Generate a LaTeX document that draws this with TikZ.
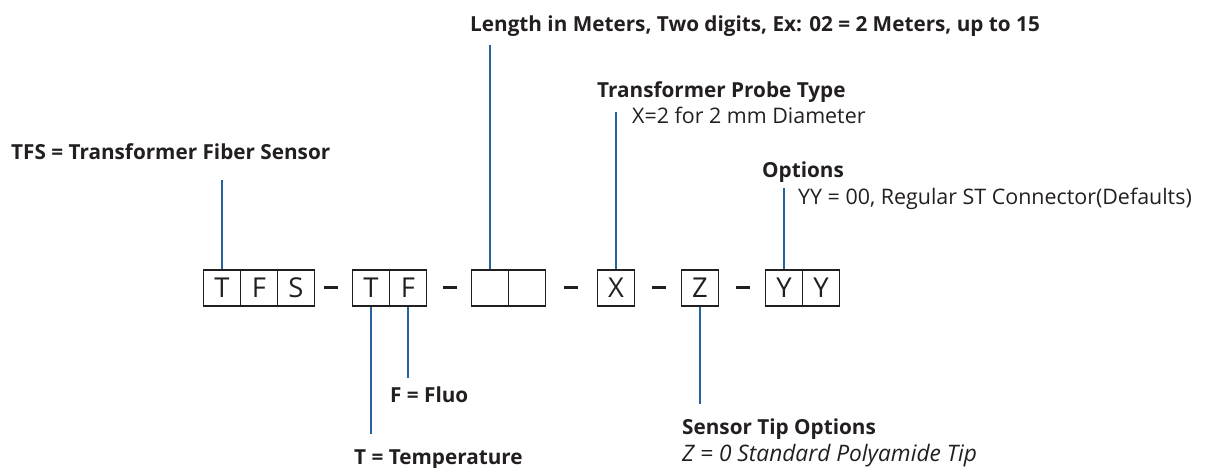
\documentclass[tikz,border=0pt]{standalone}
\usepackage{fontspec}
\setmainfont{Open Sans}
\usepackage{tikz}
\usetikzlibrary{positioning}

\definecolor{leadblue}{RGB}{38,98,158}
\definecolor{ink}{RGB}{35,31,32}

\tikzset{
	cell/.style={shape=rectangle,draw=ink,line width=1.5bp,minimum width=37bp,minimum height=36bp,inner sep=0pt,font=\fontsize{27.5}{28}\selectfont,text=ink},
	bar/.style={shape=rectangle,fill=ink,minimum width=14bp,minimum height=3bp,inner sep=0pt},
	lead/.style={draw=leadblue,line width=1.5bp},
	head/.style={anchor=base west,inner sep=0pt,font=\fontsize{20.8}{21}\selectfont\bfseries,text=ink},
	info/.style={anchor=base west,inner sep=0pt,font=\fontsize{21.5}{22}\selectfont,text=ink}
}

\begin{document}
\begin{tikzpicture}[x=1bp,y=-1bp]
	
	\useasboundingbox (0,0) rectangle (1209,468);
	
	\node[cell] (t1) at (222,288) {T};
	\node[cell] (f1) at (259,288) {F};
	\node[cell] (s1) at (296,288) {S};
	\node[bar] (d1) at (330.5,288) {};
	\node[cell] (t2) at (371,288) {T};
	\node[cell] (f2) at (408,288) {F};
	\node[bar] (d2) at (450,288) {};
	\node[cell] (l1) at (490,288) {};
	\node[cell] (l2) at (527,288) {};
	\node[bar] (d3) at (571,288) {};
	\node[cell] (x1) at (616,288) {X};
	\node[bar] (d4) at (658.5,288) {};
	\node[cell] (z1) at (700,288) {Z};
	\node[bar] (d5) at (742.5,288) {};
	\node[cell] (y1) at (784,288) {Y};
	\node[cell] (y2) at (821,288) {Y};
	
	
	
	\node[head] (tfs) at (11,160) {TFS = Transformer Fiber Sensor};
	\node[head] (len) at (470,32) {Length in Meters, Two digits, Ex: 02 = 2 Meters, up to 15};
	\node[head] (probe) at (597,98) {Transformer Probe Type};
	\node[info] (probex) at (632,124) {X=2 for 2 mm Diameter};
	\node[head] (opt) at (762,178) {Options};
	\node[info] (opty) at (798,205) {YY = 00, Regular ST Connector(Defaults)};
	\node[head] (fluo) at (390,403) {F = Fluo};
	\node[head] (temp) at (354,465) {T = Temperature};
	\node[head] (tip) at (682,435) {Sensor Tip Options};
	\node[info,font=\fontsize{22.8}{23}\selectfont\itshape] (tipz) at (682,462) {Z = 0 Standard Polyamide Tip};
	
	\coordinate (c1) at (222,180);
	\coordinate (c2) at (490,45);
	\coordinate (c3) at (616,112);
	\coordinate (c4) at (784,188);
	\coordinate (c5) at (371,434);
	\coordinate (c6) at (408,378);
	\coordinate (c7) at (700,404);
	
	\path [lead] (t1.north) edge (c1);
	\path [lead] (l1.north) edge (c2);
	\path [lead] (x1.north) edge (c3);
	\path [lead] (y1.north) edge (c4);
	\path [lead] (t2.south) edge (c5);
	\path [lead] (f2.south) edge (c6);
	\path [lead] (z1.south) edge (c7);
	
\end{tikzpicture}
\end{document}
